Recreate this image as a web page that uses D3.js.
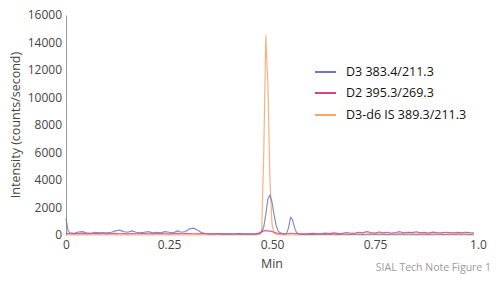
<!DOCTYPE html>
<html><head><meta charset="utf-8">
<script src="https://cdn.jsdelivr.net/npm/d3@7"></script>
<style>body{margin:0;background:#fff}svg{display:block}text{font-family:"Open Sans",sans-serif}</style>
</head><body><svg id="c" width="500" height="283"></svg>
<script>
const time = [0,0.005,0.01,0.02,0.03,0.04,0.05,0.06,0.07,0.08,0.09,0.10,0.11,0.12,0.13,0.14,0.15,0.16,0.17,0.18,0.19,0.20,0.21,0.22,0.23,0.24,0.25,0.26,0.27,0.28,0.29,0.30,0.31,0.32,0.33,0.34,0.35,0.36,0.37,0.38,0.39,0.40,0.41,0.42,0.43,0.44,0.45,
0.455,0.46,0.465,0.47,0.475,0.48,0.485,0.49,0.495,0.50,0.505,0.51,0.515,0.52,0.525,0.53,0.535,0.54,0.545,0.55,0.555,0.56,0.565,0.57,0.575,0.58,
0.59,0.60,0.61,0.62,0.63,0.64,0.65,0.66,0.67,0.68,0.69,0.70,0.71,0.72,0.73,0.74,0.75,0.76,0.77,0.78,0.79,0.80,0.81,0.82,0.83,0.84,0.85,0.86,0.87,0.88,0.89,0.90,0.91,0.92,0.93,0.94,0.95,0.96,0.97,0.98,0.99];
const d3Values = [1200,300,150,120,220,250,150,120,200,150,180,150,200,300,350,250,200,300,200,150,200,250,150,200,150,250,200,150,300,200,250,450,500,350,150,100,80,70,90,60,80,60,70,80,60,70,60,
50,60,80,100,200,600,1500,2600,2900,2400,1500,700,300,150,100,80,100,500,1300,1100,500,150,80,60,50,50,
60,50,70,60,50,80,60,50,70,60,50,60,70,50,60,80,60,70,60,50,70,60,80,60,70,60,50,70,60,50,60,70,60,50,60,70,60,70,60,50,60];
const d2Values = [100,120,90,80,100,120,80,90,110,100,90,80,100,120,90,100,80,110,90,100,120,90,80,100,110,90,80,100,120,90,100,110,90,80,100,90,80,90,100,80,90,80,90,100,80,90,80,
90,100,120,150,250,300,320,300,280,250,200,150,120,100,90,80,90,100,120,110,100,90,80,90,80,90,
100,120,90,110,130,100,150,120,100,180,140,120,200,150,250,180,140,220,160,200,130,180,240,150,200,170,230,160,190,140,210,170,150,200,180,160,190,150,200,170,160];
const d6Values = [0,0,0,0,0,0,0,0,0,0,0,0,0,0,0,0,0,0,0,0,0,0,0,0,0,0,0,0,0,0,0,0,0,0,0,0,0,0,0,0,0,0,0,0,0,0,0,
0,10,20,50,300,6000,14500,11000,4000,800,150,50,20,10,0,0,0,0,0,0,0,0,0,0,0,0,
0,0,0,0,0,0,0,0,0,0,0,0,0,0,0,0,0,0,0,0,0,0,0,0,0,0,0,0,0,0,0,0,0,0,0,0,0,0,0,0,0];
const seriesNames = ["D3 383.4/211.3","D2 395.3/269.3","D3-d6 IS 389.3/211.3"];
const seriesColors = ["#7078b8","#d4477c","#f5a66a"];
const yTicks = [0,2000,4000,6000,8000,10000,12000,14000,16000];
const xTicks = [0,0.25,0.5,0.75,1.0];
const xTickLabels = ["0","0.25","0.50","0.75","1.0"];

const svg = d3.select("#c");
const x = d3.scaleLinear().domain([0,1]).range([66,478]);
const y = d3.scaleLinear().domain([0,16000]).range([235,15]);

const ya = svg.append("g").attr("transform","translate(66,0)")
  .call(d3.axisLeft(y).tickValues(yTicks).tickSize(0).tickPadding(4).tickFormat(d3.format("d")));
ya.select(".domain").attr("stroke","#9a9a9a").attr("stroke-width",1);
ya.selectAll("text").attr("font-size",12).attr("fill","#444").attr("font-family","Open Sans");

const xa = svg.append("g").attr("transform","translate(0,235)")
  .call(d3.axisBottom(x).tickValues(xTicks).tickSize(0).tickPadding(5).tickFormat((d,i)=>xTickLabels[i]));
xa.select(".domain").remove();
xa.selectAll("text").attr("font-size",12).attr("fill","#444").attr("font-family","Open Sans");

svg.append("text").attr("transform","translate(20,125) rotate(-90)").attr("text-anchor","middle")
  .attr("font-size",12.5).attr("fill","#444").text("Intensity (counts/second)");
svg.append("text").attr("x",272).attr("y",268).attr("text-anchor","middle")
  .attr("font-size",12.5).attr("fill","#444").text("Min");
svg.append("text").attr("x",491).attr("y",271).attr("text-anchor","end")
  .attr("font-size",10.5).attr("fill","#9a9a9a").text("SIAL Tech Note Figure 1");

const data = [d3Values,d2Values,d6Values];
const line = d3.line().x((d,i)=>x(time[i])).y(d=>y(d));
[2,0,1].forEach(k=>{
  svg.append("path").datum(data[k]).attr("d",line).attr("fill","none")
    .attr("stroke",seriesColors[k]).attr("stroke-width",1.2).attr("stroke-opacity",0.85).attr("stroke-linejoin","round");
});

const legY = [72,93,115];
const leg = svg.append("g");
seriesNames.forEach((n,i)=>{
  leg.append("line").attr("x1",315).attr("x2",336).attr("y1",legY[i]).attr("y2",legY[i])
    .attr("stroke",seriesColors[i]).attr("stroke-width",2);
  leg.append("text").attr("x",346).attr("y",legY[i]).attr("dy","0.35em")
    .attr("font-size",12.5).attr("fill","#111").text(n);
});
</script></body></html>
